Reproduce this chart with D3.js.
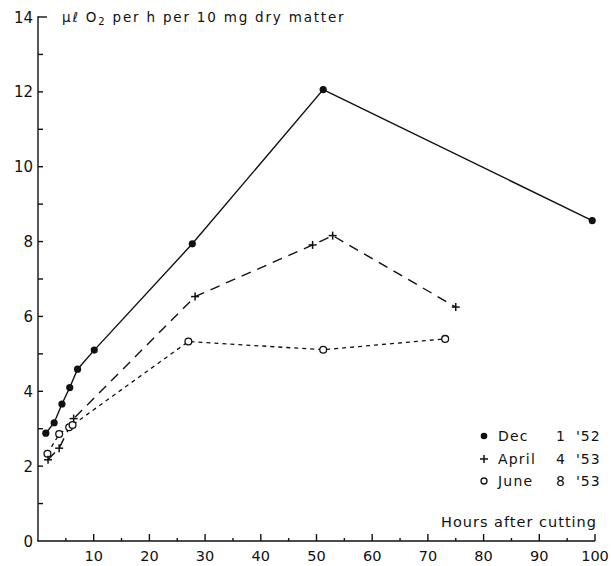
<!DOCTYPE html>
<html><head><meta charset="utf-8">
<script src="https://cdn.jsdelivr.net/npm/d3@7"></script>
<style>body{margin:0;background:#fff}svg{display:block}text{font-family:"DejaVu Sans",sans-serif;fill:#111}</style>
</head><body>
<script>
// Data
const decX = [1.4, 2.9, 4.3, 5.7, 7.1, 10.1, 27.7, 51.2, 99.5];
const decY = [2.88, 3.16, 3.66, 4.1, 4.59, 5.1, 7.94, 12.06, 8.56];
const aprX = [1.8, 3.8, 6.4, 28.2, 49.3, 52.9, 75.0];
const aprY = [2.17, 2.48, 3.27, 6.53, 7.91, 8.16, 6.25];
const junX = [1.7, 3.8, 5.6, 6.2, 27.0, 51.2, 73.1];
const junY = [2.33, 2.86, 3.04, 3.1, 5.33, 5.11, 5.40];
const xTicks = [10, 20, 30, 40, 50, 60, 70, 80, 90, 100];
const yTicks = [0, 2, 4, 6, 8, 10, 12, 14];
const legendNames = ["Dec", "April", "June"];
const legendDays = ["1", "4", "8"];
const legendYears = ["'52", "'53", "'53"];

const W = 611, H = 566;
const svg = d3.select("body").append("svg").attr("width", W).attr("height", H);
const x = d3.scaleLinear().domain([0, 100]).range([38, 595]);
const y = d3.scaleLinear().domain([0, 14]).range([541, 17]);

// axes
const ax = svg.append("g").attr("stroke", "#111").attr("stroke-width", 1.4).attr("fill", "none");
ax.append("line").attr("x1", x(0)).attr("x2", x(0)).attr("y1", y(0)).attr("y2", y(14) - 0.7);
ax.append("line").attr("x1", x(0) - 0.7).attr("x2", x(100)).attr("y1", y(0)).attr("y2", y(0));
// y ticks (every 1, inward)
d3.range(1, 15).forEach(v => {
  ax.append("line").attr("x1", x(0)).attr("x2", x(0) + (v === 14 ? 9 : 5))
    .attr("y1", y(v)).attr("y2", y(v));
});
// x ticks (every 10 major, every 5 minor, upward)
d3.range(5, 101, 5).forEach(v => {
  ax.append("line").attr("x1", x(v)).attr("x2", x(v))
    .attr("y1", y(0)).attr("y2", y(0) - (v % 10 === 0 ? 7 : 3));
});
svg.selectAll(".yl").data(yTicks).enter().append("text")
  .attr("x", x(0) - 5).attr("y", d => y(d) + 5.5).attr("text-anchor", "end")
  .attr("font-size", 15).text(d => d);
svg.selectAll(".xl").data(xTicks).enter().append("text")
  .attr("x", d => x(d)).attr("y", 561).attr("text-anchor", "middle")
  .attr("font-size", 14.5).text(d => d);

// titles
const t = svg.append("text").attr("x", 62).attr("y", 22).attr("font-size", 13.5).attr("letter-spacing", 1.8);
t.append("tspan").text("μℓ O");
t.append("tspan").attr("font-size", 10).attr("dy", 3).text("2");
t.append("tspan").attr("dy", -3).text(" per h per 10 mg dry matter");
svg.append("text").attr("x", 597).attr("y", 527).attr("text-anchor", "end")
  .attr("font-size", 14.5).attr("letter-spacing", 1).text("Hours after cutting");

const line = d3.line().x(d => x(d[0])).y(d => y(d[1]));
const zip = (a, b) => a.map((v, i) => [v, b[i]]);
const dec = zip(decX, decY), apr = zip(aprX, aprY), jun = zip(junX, junY);

svg.append("path").datum(dec).attr("d", line).attr("fill", "none").attr("stroke", "#111").attr("stroke-width", 1.4);
svg.append("path").datum(apr).attr("d", line).attr("fill", "none").attr("stroke", "#111").attr("stroke-width", 1.4).attr("stroke-dasharray", "10,7");
svg.append("path").datum(jun).attr("d", line).attr("fill", "none").attr("stroke", "#111").attr("stroke-width", 1.3).attr("stroke-dasharray", "4,4");

svg.selectAll(".dd").data(dec).enter().append("circle")
  .attr("cx", d => x(d[0])).attr("cy", d => y(d[1])).attr("r", 3.6).attr("fill", "#111");
svg.selectAll(".jd").data(jun).enter().append("circle")
  .attr("cx", d => x(d[0])).attr("cy", d => y(d[1])).attr("r", 3.4).attr("fill", "#fff").attr("stroke", "#111").attr("stroke-width", 1.3);
const cross = (g, px, py) => {
  g.append("line").attr("x1", px - 4).attr("x2", px + 4).attr("y1", py).attr("y2", py);
  g.append("line").attr("x1", px).attr("x2", px).attr("y1", py - 4).attr("y2", py + 4);
};
const pg = svg.append("g").attr("stroke", "#111").attr("stroke-width", 1.5);
apr.forEach(d => cross(pg, x(d[0]), y(d[1])));

// legend
const ly = [436, 459, 481];
const lg = svg.append("g");
lg.append("circle").attr("cx", 484).attr("cy", ly[0]).attr("r", 3.3).attr("fill", "#111");
cross(lg.append("g").attr("stroke", "#111").attr("stroke-width", 1.5), 484, ly[1]);
lg.append("circle").attr("cx", 484).attr("cy", ly[2]).attr("r", 3).attr("fill", "#fff").attr("stroke", "#111").attr("stroke-width", 1.3);
legendNames.forEach((n, i) => {
  lg.append("text").attr("x", 498).attr("y", ly[i] + 5).attr("font-size", 14).attr("letter-spacing", 1.2).text(n);
  lg.append("text").attr("x", 565).attr("y", ly[i] + 5).attr("text-anchor", "end").attr("font-size", 14).text(legendDays[i]);
  lg.append("text").attr("x", 576).attr("y", ly[i] + 5).attr("font-size", 14).attr("letter-spacing", 1).text(legendYears[i]);
});
</script>
</body></html>
